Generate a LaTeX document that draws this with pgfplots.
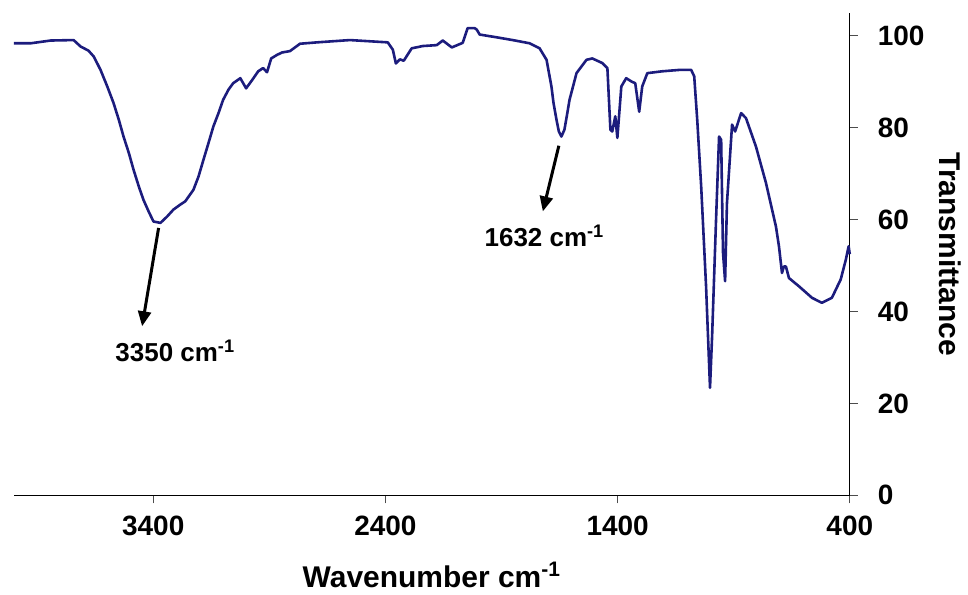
\documentclass[border=0pt]{standalone}
\usepackage{pgfplots}
\pgfplotsset{compat=1.18}
\usepackage{fontspec}
\setmainfont{Liberation Sans}
\usetikzlibrary{arrows.meta}
\definecolor{irblue}{RGB}{28,28,125}
\begin{document}
\begin{tikzpicture}
\begin{axis}[
  scale only axis,
  width=418.5pt, height=241.5pt,
  xmin=400, xmax=4000, ymin=0, ymax=105,
  x dir=reverse,
  axis x line*=bottom, axis y line*=right,
  axis line style={black, line width=0.6pt},
  xtick={400,1400,2400,3400},
  ytick={0,20,40,60,80,100},
  tick align=outside,
  major tick length=4pt,
  tick style={black!70, line width=0.5pt},
  /pgf/number format/assume math mode=true,
  /pgf/number format/1000 sep={},
  ticklabel style={font=\fontsize{14}{16}\selectfont\bfseries},
  yticklabel style={xshift=6.5pt},
  xticklabel style={yshift=-3pt},
  xlabel={Wavenumber cm\textsuperscript{-1}},
  ylabel={Transmittance},
  label style={font=\fontsize{15}{17}\selectfont\bfseries},
  xlabel style={at={(axis description cs:0.5,-0.1905)}, anchor=base},
  ylabel style={at={(axis description cs:1.1203,0.5)}, anchor=center, rotate=180},
  clip=false,
]
\addplot[irblue, line width=1.3pt, line join=round] coordinates {
(4000,98.4) (3928,98.4) (3842,99.0) (3743,99.1) (3713,97.7) (3679,96.8)
(3656,95.5) (3627,92.6) (3598,89.0) (3571,85.4) (3548,81.7) (3528,78.1)
(3505,74.5) (3485,70.9) (3462,67.2) (3442,64.3) (3420,61.8) (3399,59.6)
(3369,59.3) (3340,60.7) (3313,62.2) (3283,63.3) (3262,64.0) (3227,66.5)
(3205,69.4) (3184,73.0) (3162,76.7) (3141,80.3) (3119,83.2)
(3099,86.1) (3076,88.3) (3056,89.7) (3025,90.8) (3000,88.6) (2974,90.4) (2948,92.3)
(2927,93.0) (2910,92.1) (2892,95.1) (2866,95.9) (2845,96.4) (2811,96.7)
(2768,98.3) (2695,98.6) (2553,99.1) (2390,98.6) (2368,97.0) (2355,94.0)
(2338,94.9) (2321,94.6) (2287,97.3) (2239,97.8) (2179,98.0) (2153,99.0)
(2114,97.5) (2067,98.5) (2046,101.7) (2016,101.7) (2007,101.4) (1994,100.3)
(1921,99.7) (1852,99.1) (1779,98.4) (1736,97.3) (1706,94.8) (1685,89.0)
(1676,85.4) (1663,81.7) (1653,79.2) (1642,78.1) (1629,79.6) (1619,82.5) (1607,86.1)
(1577,91.9) (1534,94.8)
(1509,95.1) (1466,94.1) (1444,93.0) (1431,79.6) (1423,79.2) (1410,82.5)
(1401,77.8) (1384,89.0) (1363,90.8) (1341,90.1) (1324,89.7) (1307,83.5)
(1294,89.0) (1272,91.9) (1208,92.3) (1135,92.6) (1083,92.6) (1070,91.2)
(1057,81.7) (1040,67.2) (1019,45.5) (1002,23.4) (993,34.6) (976,60.0)
(963,78.1) (954,77.4) (946,52.8) (937,46.6) (929,63.6) (907,80.7)
(894,79.2) (868,83.2) (847,82.1) (804,75.9) (761,68.0) (718,58.5)
(705,54.2) (692,48.4) (684,49.8) (675,49.8) (662,47.3) (619,45.5)
(563,43.0) (520,41.9) (477,43.0) (439,47.0) (417,51.3) (405,54.2) (400,52.5)
};
\draw[black, line width=1.5pt, -{Triangle[length=7.5pt,width=6.5pt]}] (axis cs:3377,58.2) -- (axis cs:3448,36.8);
\draw[black, line width=1.5pt, -{Triangle[length=7.5pt,width=6.5pt]}] (axis cs:1653,76.1) -- (axis cs:1722,61.8);
\node[anchor=base, font=\fontsize{13}{15}\selectfont\bfseries] at (axis cs:3305,29.1) {3350 cm\textsuperscript{-1}};
\node[anchor=base, font=\fontsize{13}{15}\selectfont\bfseries] at (axis cs:1715,54.2) {1632 cm\textsuperscript{-1}};
\path (axis description cs:-0.0167,1.0269) rectangle (axis description cs:1.1398,-0.2029);
\end{axis}
\end{tikzpicture}
\end{document}
